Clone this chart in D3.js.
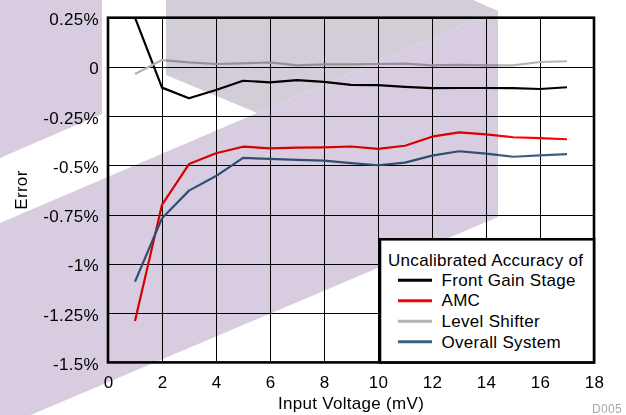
<!DOCTYPE html>
<html>
<head>
<meta charset="utf-8">
<script src="https://cdn.jsdelivr.net/npm/d3@7"></script>
<style>
  html, body { margin: 0; padding: 0; background: #fff; }
  svg { display: block; font-family: "Liberation Sans", Arial, sans-serif; }
  svg text { letter-spacing: 0.3px; }
</style>
</head>
<body>
<svg id="chart" width="626" height="415"></svg>
<script>
// ---- data ----
const inputVoltage = [1,2,3,4,5,6,7,8,9,10,11,12,13,14,15,16,17];
const frontGainStage = [0.25,-0.105,-0.159,-0.117,-0.07,-0.078,-0.067,-0.076,-0.091,-0.092,-0.101,-0.108,-0.107,-0.107,-0.108,-0.112,-0.103];
const amc = [-1.29,-0.70,-0.493,-0.438,-0.405,-0.413,-0.41,-0.408,-0.404,-0.416,-0.40,-0.354,-0.332,-0.342,-0.357,-0.361,-0.367];
const levelShifter = [-0.036,0.035,0.023,0.015,0.018,0.023,0.008,0.013,0.013,0.015,0.017,0.008,0.01,0.008,0.008,0.025,0.029];
const overallSystem = [-1.09,-0.768,-0.628,-0.554,-0.462,-0.467,-0.472,-0.476,-0.488,-0.499,-0.486,-0.45,-0.428,-0.44,-0.456,-0.449,-0.443];
const seriesNames = ["Front Gain Stage","AMC","Level Shifter","Overall System"];
const seriesColors = ["#000000","#ff0000","#b3b3b3","#3a6182"];
const xTicks = [0,2,4,6,8,10,12,14,16,18];
const yTicks = [0.25,0,-0.25,-0.5,-0.75,-1,-1.25,-1.5];
const yTickLabels = ["0.25%","0","-0.25%","-0.5%","-0.75%","-1%","-1.25%","-1.5%"];
const legendTitle = "Uncalibrated Accuracy of";
const xTitle = "Input Voltage (mV)";
const yTitle = "Error";
const footnote = "D005";

const allSeries = [frontGainStage, amc, levelShifter, overallSystem];

// ---- layout ----
const FS = "17px";
const svg = d3.select("#chart");
const L = 108, R = 594, T = 17.7, B = 362.4;
const x = d3.scaleLinear().domain([0,18]).range([L,R]);
const y = d3.scaleLinear().domain([-1.5,0.25]).range([B,T]);

svg.append("rect").attr("width",626).attr("height",415).attr("fill","#fff");

// grid
const grid = svg.append("g");
grid.selectAll("line.v").data(xTicks.slice(1,-1)).join("line")
  .attr("x1",d=>Math.round(x(d))+0.5).attr("x2",d=>Math.round(x(d))+0.5)
  .attr("y1",T).attr("y2",B).attr("stroke","#000").attr("stroke-width",1);
grid.selectAll("line.h").data(yTicks.slice(1,-1)).join("line")
  .attr("y1",d=>Math.round(y(d))+0.5).attr("y2",d=>Math.round(y(d))+0.5)
  .attr("x1",L).attr("x2",R).attr("stroke","#000").attr("stroke-width",1);

// axes (labels only)
const xAxis = d3.axisBottom(x).tickValues(xTicks).tickSize(0).tickPadding(0).tickFormat(d3.format("d"));
const gx = svg.append("g").attr("transform",`translate(0,${B})`).call(xAxis);
gx.select(".domain").remove();
gx.selectAll("text").attr("dy",null).attr("y",25.8)
  .attr("font-size",FS).attr("font-family","Liberation Sans, Arial, sans-serif").attr("fill","#000");

const yAxis = d3.axisLeft(y).tickValues(yTicks).tickSize(0).tickPadding(0)
  .tickFormat((d,i)=>yTickLabels[i]);
const gy = svg.append("g").attr("transform",`translate(99,0)`).call(yAxis);
gy.select(".domain").remove();
gy.selectAll("text").attr("x",0).attr("dy",null).attr("y",7)
  .attr("font-size",FS).attr("font-family","Liberation Sans, Arial, sans-serif").attr("fill","#000");

// clip
svg.append("clipPath").attr("id","plotclip").append("rect")
  .attr("x",L).attr("y",T).attr("width",R-L).attr("height",B-T);

const line = d3.line().x((d,i)=>x(inputVoltage[i])).y(d=>y(d));
const lines = svg.append("g").attr("clip-path","url(#plotclip)");
lines.selectAll("path").data(allSeries).join("path")
  .attr("d",line).attr("fill","none")
  .attr("stroke",(d,i)=>seriesColors[i]).attr("stroke-width",2.2)
  .attr("stroke-linejoin","round");

// frame
svg.append("rect").attr("x",L).attr("y",T).attr("width",R-L).attr("height",B-T)
  .attr("fill","none").attr("stroke","#000").attr("stroke-width",2.6);

// axis titles
svg.append("text").attr("x",(L+R)/2).attr("y",409).attr("text-anchor","middle")
  .attr("font-size",FS).text(xTitle);
svg.append("text").attr("transform",`translate(27,${(T+B)/2}) rotate(-90)`)
  .attr("text-anchor","middle").attr("font-size",FS).text(yTitle);

// watermark (decorative overlay)
const wm = svg.append("g").style("mix-blend-mode","multiply");
wm.append("polygon").attr("points","0,0 102,0 102,114 0,158").attr("fill","#d8cce0");
wm.append("polygon").attr("points","166,0 473,0 498,11 498,10 257,113 166,75").attr("fill","#d3cdd8");
wm.append("polygon").attr("points","0,223 498,10 498,217 0,428").attr("fill","#d8cce0");

// legend
const lg = svg.append("g");
lg.append("rect").attr("x",380).attr("y",239.3).attr("width",R-380).attr("height",B-239.3)
  .attr("fill","#fff").attr("stroke","#000").attr("stroke-width",2.6);
lg.append("text").attr("x",388).attr("y",265.7).attr("font-size",FS).text(legendTitle);
const items = lg.selectAll("g.item").data(seriesNames).join("g")
  .attr("transform",(d,i)=>`translate(0,${285.9 + i*20.55})`);
items.append("line").attr("x1",398).attr("x2",432).attr("y1",-5.7).attr("y2",-5.7)
  .attr("stroke",(d,i)=>seriesColors[i]).attr("stroke-width",3);
items.append("text").attr("x",441.5).attr("y",0).attr("font-size",FS).text(d=>d);

// footnote
svg.append("text").attr("x",622).attr("y",412.5).attr("text-anchor","end")
  .attr("font-size","12px").attr("fill","#a8a8a8").text(footnote);
</script>
</body>
</html>
